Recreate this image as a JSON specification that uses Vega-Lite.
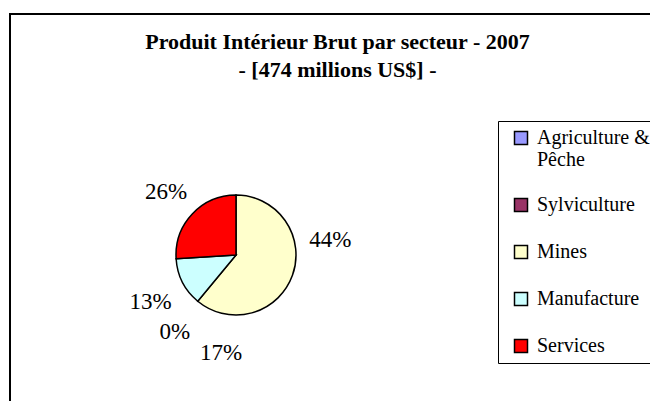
{
  "$schema": "https://vega.github.io/schema/vega-lite/v6.json",
  "width": 645,
  "height": 395,
  "autosize": {"type": "none"},
  "padding": {"left": 10, "top": 14, "right": 0, "bottom": 0},
  "background": "white",
  "view": {"stroke": "black", "strokeWidth": 2, "fill": "white"},
  "config": {"font": "Liberation Serif"},
  "title": {
    "text": ["Produit Intérieur Brut par secteur - 2007", "- [474 millions US$] -"],
    "font": "Liberation Serif", "fontSize": 22, "fontWeight": "bold", "color": "black",
    "lineHeight": 28, "anchor": "middle", "frame": "group", "offset": -68, "dx": 5
  },
  "datasets": {
    "parts_dessinees": [
      {"secteur": "Mines", "part": 0.61, "ordre": 1},
      {"secteur": "Manufacture", "part": 0.13, "ordre": 2},
      {"secteur": "Services", "part": 0.26, "ordre": 3}
    ],
    "secteurs": [
      {"secteur": "Agriculture & Pêche", "part": 0.44, "ordre": 1},
      {"secteur": "Sylviculture", "part": 0.17, "ordre": 2},
      {"secteur": "Mines", "part": 0.0, "ordre": 3},
      {"secteur": "Manufacture", "part": 0.13, "ordre": 4},
      {"secteur": "Services", "part": 0.26, "ordre": 5}
    ]
  },
  "layer": [
    {
      "data": {"name": "parts_dessinees"},
      "mark": {"type": "arc", "outerRadius": 60, "stroke": "black", "strokeWidth": 1.5, "x": 226, "y": 241},
      "encoding": {
        "theta": {"field": "part", "type": "quantitative", "stack": true},
        "order": {"field": "ordre", "type": "quantitative"},
        "color": {
          "field": "secteur", "type": "nominal",
          "scale": {
            "domain": ["Agriculture & Pêche", "Sylviculture", "Mines", "Manufacture", "Services"],
            "range": ["#9999FF", "#993366", "#FFFFCC", "#CCFFFF", "#FF0000"]
          },
          "legend": {
            "title": null, "orient": "none", "legendX": 488, "legendY": 107,
            "symbolType": "square", "symbolSize": 169, "symbolStrokeColor": "black", "symbolStrokeWidth": 1.5,
            "symbolOpacity": 1, "symbolOffset": 8,
            "labelFont": "Liberation Serif", "labelFontSize": 20, "labelColor": "black", "labelOffset": 6, "labelLimit": 300,
            "labelExpr": "datum.label == 'Agriculture & Pêche' ? ['Agriculture &', 'Pêche'] : datum.label",
            "clipHeight": 24, "rowPadding": 23, "padding": 5, "strokeColor": "black", "fillColor": "white",
            "values": ["Agriculture & Pêche", "Sylviculture", "Mines", "Manufacture", "Services"]
          }
        }
      }
    },
    {
      "data": {"name": "secteurs"},
      "mark": {"type": "text", "radius": 96, "x": 226, "y": 244, "fontSize": 23, "font": "Liberation Serif", "color": "black"},
      "encoding": {
        "theta": {"field": "part", "type": "quantitative", "stack": true},
        "order": {"field": "ordre", "type": "quantitative"},
        "text": {"field": "part", "type": "quantitative", "format": ".0%"}
      }
    }
  ]
}
